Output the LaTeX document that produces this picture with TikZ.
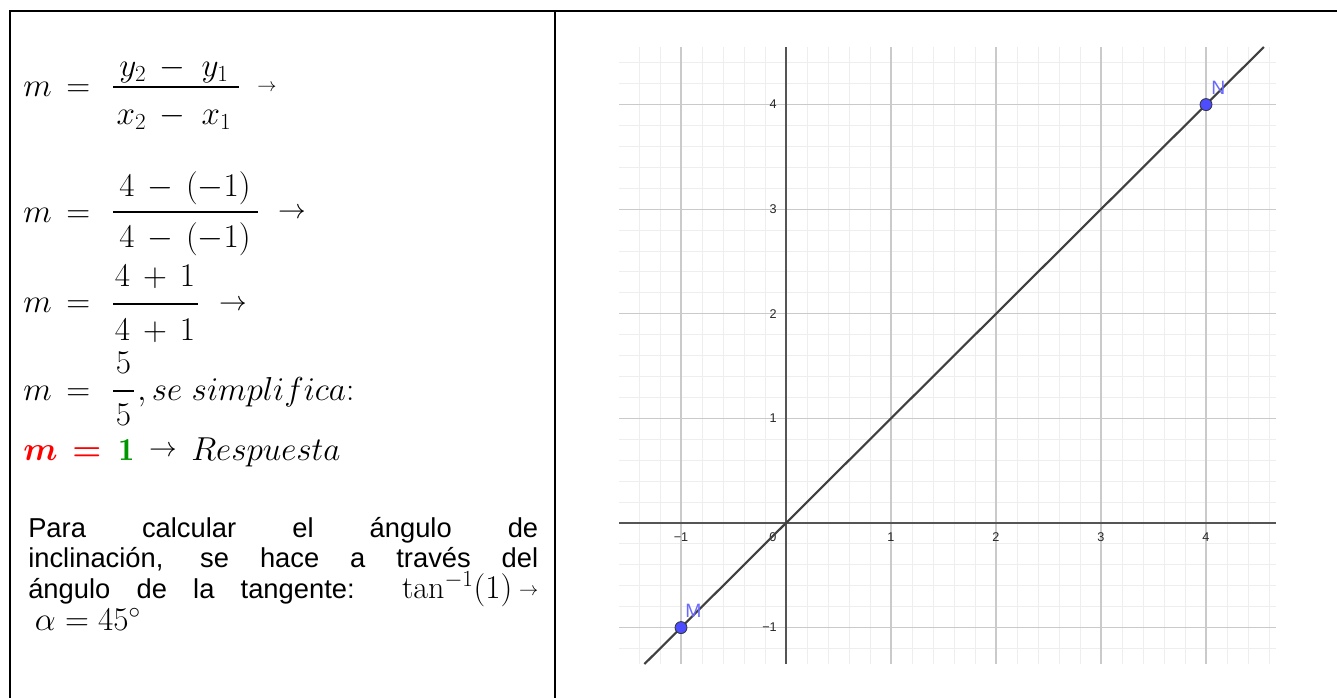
\documentclass[tikz,border=0pt]{standalone}
\usepackage{amsmath,bm}
\usepackage{fontspec}
\newfontfamily\arial{Liberation Sans}
\definecolor{okgreen}{RGB}{0,150,0}
\definecolor{minorgr}{RGB}{238,238,238}
\definecolor{majorgr}{RGB}{202,202,202}
\definecolor{axisgr}{RGB}{85,85,85}
\definecolor{linegr}{RGB}{64,64,64}
\definecolor{ptblue}{RGB}{77,77,255}
\definecolor{labblue}{RGB}{105,105,255}
\newcommand\pmath[1]{{\fontsize{24}{22.5}\selectfont$#1$}}
\newcommand\smallarrow{\raisebox{2.5pt}{\fontsize{15}{18}\selectfont$\rightarrow$}}
\tikzset{
  frame/.style={line width=1.5pt, black},
  mth/.style={anchor=base west, inner sep=0pt, font=\fontsize{24}{28}\selectfont},
  num/.style={anchor=base, inner sep=0pt, font=\fontsize{24}{28}\selectfont},
  fbar/.style={line width=2pt},
  arr/.style={anchor=center, inner sep=0pt},
  para/.style={anchor=base west, inner sep=0pt, text width=382.5pt, align=justify,
    font=\arial\fontsize{20.5}{22.5}\selectfont},
  minorgrid/.style={draw=minorgr, line width=0.75pt},
  majorgrid/.style={draw=majorgr, line width=0.9pt},
  axisline/.style={draw=axisgr, line width=1.2pt},
  ticklab/.style={inner sep=0pt, font=\arial\fontsize{9.5}{10}\selectfont, text=black!85},
  yxline/.style={draw=linegr, line width=1.6pt},
  ptdot/.style={circle, fill=ptblue, draw=black!80, line width=0.6pt, inner sep=0pt, minimum size=9pt},
  ptlab/.style={anchor=base west, inner sep=0pt, text=labblue, font=\arial\fontsize{14.5}{16}\selectfont}
}
\begin{document}
\begin{tikzpicture}[x=0.75pt, y=-0.75pt]
\useasboundingbox (0,0) rectangle (1337,698);
% frame
\coordinate (TL) at (10,11);
\coordinate (TR) at (1345,11);
\coordinate (BL) at (10,710);
\coordinate (DT) at (555,11);
\coordinate (DB) at (555,710);
\draw[frame] (TR) -- (TL) -- (BL);
\draw[frame] (DT) -- (DB);

% row 1
\node[mth] (m1) at (23,97) {$m\,=$};
\node[num] (n1) at (174,77) {$y_2 \,-\; y_1$};
\coordinate (b1l) at (113,87); \coordinate (b1r) at (239,87);
\draw[fbar] (b1l) -- (b1r);
\node[num] (d1) at (174,125) {$x_2 \,-\; x_1$};
\node[arr, font=\fontsize{15}{18}\selectfont] (a1) at (267,88) {$\rightarrow$};

% row 2
\node[mth] (m2) at (23,223) {$m\,=$};
\node[num] (n2) at (185,197) {$4 \,-\, (-1)$};
\coordinate (b2l) at (113,212); \coordinate (b2r) at (258,212);
\draw[fbar] (b2l) -- (b2r);
\node[num] (d2) at (185,248) {$4 \,-\, (-1)$};
\node[arr, font=\fontsize{20}{24}\selectfont] (a2) at (292,213) {$\rightarrow$};

% row 3
\node[mth] (m3) at (23,312) {$m\,=$};
\node[num] (n3) at (155,287) {$4 \,+\, 1$};
\coordinate (b3l) at (113,304); \coordinate (b3r) at (198,304);
\draw[fbar] (b3l) -- (b3r);
\node[num] (d3) at (155,340) {$4 \,+\, 1$};
\node[arr, font=\fontsize{20}{24}\selectfont] (a3) at (233,305) {$\rightarrow$};

% row 4
\node[mth] (m4) at (23,400) {$m\,=$};
\node[num] (n4) at (123.5,373) {$5$};
\coordinate (b4l) at (113,391); \coordinate (b4r) at (134,391);
\draw[fbar] (b4l) -- (b4r);
\node[num] (d4) at (123.5,425) {$5$};
\node[mth] (s4) at (137,400) {$,se\ simplifica{:}$};

% row 5
\node[mth, text=red] (m5) at (23,460) {$\bm{m}\,\bm{=}$};
\node[mth, text=okgreen] (one5) at (118,460) {$\mathbf{1}$};
\node[arr, font=\fontsize{22}{26}\selectfont] (a5) at (163,451) {$\rightarrow$};
\node[mth] (r5) at (191,460) {$Respuesta$};

% paragraph
\node[para] (p) at (28,537) {\lineskiplimit=-100pt\relax
Para calcular el ángulo de\linebreak
inclinación, se hace a través del\linebreak
ángulo de la tangente: \pmath{\tan^{-1}(1)}\hspace{5pt}\smallarrow\linebreak
\hspace*{5pt}\pmath{\alpha = 45^{\circ}}};

% graph
\begin{scope}[shift={(786,523)}]
\begin{scope}[x=78.75pt, y=78.45pt]
\def\xa{-1.59}\def\xb{4.667}\def\ya{-1.348}\def\yb{4.551}
\draw[minorgrid] (\xa,\ya) grid[step=0.2] (\xb,\yb);
\draw[majorgrid] (\xa,\ya) grid[step=1] (\xb,\yb);
\coordinate (XL) at (\xa,0); \coordinate (XR) at (\xb,0);
\coordinate (YB) at (0,\ya); \coordinate (YT) at (0,\yb);
\draw[axisline] (XL) -- (XR);
\draw[axisline] (YB) -- (YT);
% tick labels
\node[ticklab] (tx-1) at (-1,-0.134) {−1};
\node[ticklab] (tx0) at (-0.124,-0.134) {0};
\foreach \k in {1,2,3,4} {\node[ticklab] (tx\k) at (\k,-0.134) {\k};}
\node[ticklab, anchor=east] (ty-1) at (-0.086,-1) {−1};
\foreach \k in {1,2,3,4} {\node[ticklab, anchor=east] (ty\k) at (-0.086,\k) {\k};}
% line y = x
\coordinate (L1) at (\ya,\ya); \coordinate (L2) at (\yb,\yb);
\draw[yxline] (L1) -- (L2);
% points
\node[ptdot] (M) at (-1,-1) {};
\node[ptdot] (N) at (4,4) {};
\node[ptlab] (Mlab) at (-0.962,-0.908) {M};
\node[ptlab] (Nlab) at (4.048,4.101) {N};
\end{scope}
\end{scope}
\end{tikzpicture}
\end{document}
